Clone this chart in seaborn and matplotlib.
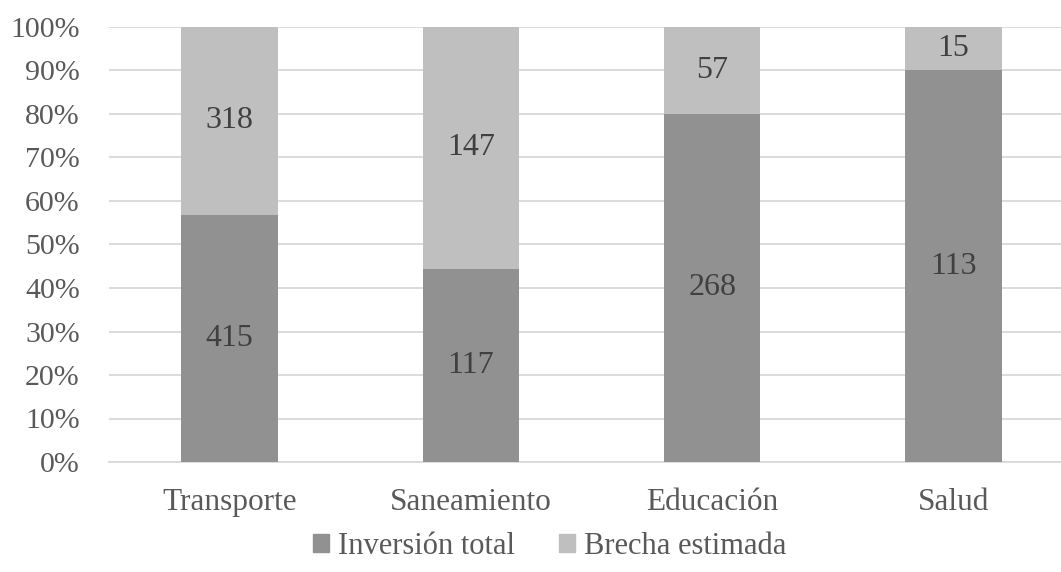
import numpy as np
import matplotlib
matplotlib.use("Agg")
import matplotlib.pyplot as plt
import seaborn as sns
from matplotlib.patches import Patch

# data
categorias = ['Transporte', 'Saneamiento', 'Educación', 'Salud']
inversion_total = [415, 117, 268, 113]
brecha_estimada = [318, 147, 57, 15]
# share of inversion in each bar (%), as drawn
inversion_pct = [56.8, 44.4, 80.1, 90.1]
total_pct = [100, 100, 100, 100]

c_dark = '#919191'
c_light = '#bfbfbf'
c_text = '#595959'
c_label = '#404040'

sns.set_style('white')
plt.rcParams['font.family'] = ['Liberation Serif', 'DejaVu Serif']

fig = plt.figure(figsize=(10.61, 5.72), dpi=100)
ax = fig.add_axes([109 / 1061, 110 / 572, 952 / 1061, 435 / 572])

# full-height light bars (brecha), then the inversion share on top
sns.barplot(x=categorias, y=total_pct, color=c_light, width=0.4, saturation=1,
            linewidth=0, ax=ax, zorder=2)
sns.barplot(x=categorias, y=inversion_pct, color=c_dark, width=0.4, saturation=1,
            linewidth=0, ax=ax, zorder=3)

for i in range(len(categorias)):
    ax.text(i, inversion_pct[i] / 2, str(inversion_total[i]), ha='center', va='center',
            fontsize=23, color=c_label, zorder=4)
    ax.text(i, (inversion_pct[i] + total_pct[i]) / 2, str(brecha_estimada[i]), ha='center',
            va='center', fontsize=23, color=c_label, zorder=4)

ax.set_ylim(0, 100)
ax.set_xlim(-0.5, 3.446)
ax.set_yticks(np.arange(0, 101, 10))
ax.set_yticklabels([f'{v}%' for v in range(0, 101, 10)])
ax.yaxis.grid(True, color='#d9d9d9', linewidth=1.3, zorder=0)
ax.set_axisbelow(True)
for s in ['top', 'right', 'left']:
    ax.spines[s].set_visible(False)
ax.spines['bottom'].set_color('#d9d9d9')
ax.spines['bottom'].set_linewidth(1.3)
ax.tick_params(axis='y', length=0, pad=21, labelsize=21.5, labelcolor=c_text)
ax.tick_params(axis='x', length=0, pad=19, labelsize=22.5, labelcolor=c_text)

handles = [Patch(color=c_dark, label='Inversión total'),
           Patch(color=c_light, label='Brecha estimada')]
fig.legend(handles=handles, loc='center', bbox_to_anchor=(0.518, 0.045), ncol=2,
           frameon=False, fontsize=22, labelcolor=c_text, handlelength=0.52,
           handleheight=0.52, handletextpad=0.3, columnspacing=1.45)

fig.savefig('out.png', dpi=100)
